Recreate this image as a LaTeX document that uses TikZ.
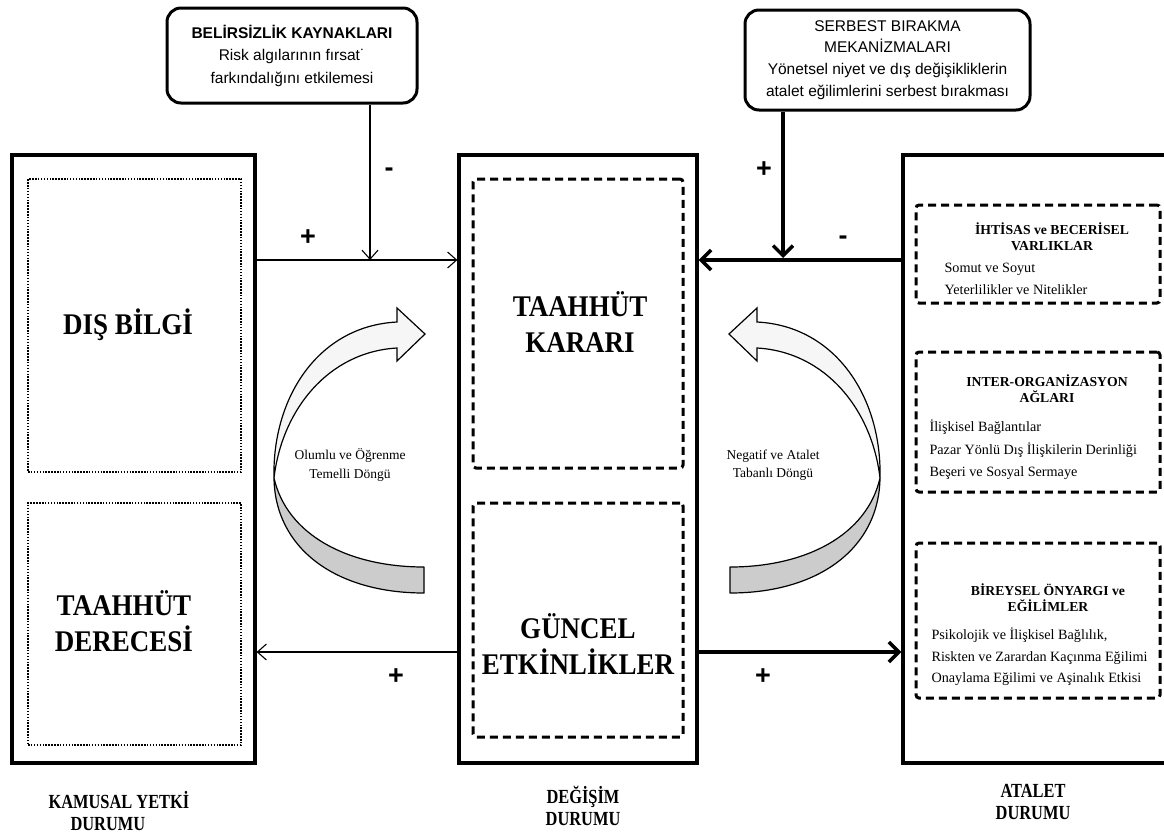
\documentclass[tikz,border=0pt]{standalone}
\usepackage{fontspec}
\setmainfont{Liberation Serif}
\setsansfont{Liberation Sans}
\newfontfamily\titlefont[FakeStretch=0.9]{Liberation Serif}
\newfontfamily\statefont[FakeStretch=0.82]{Liberation Serif}
\usetikzlibrary{arrows.meta}

% curved loop arrow (front face with head, then twisted back face)
\newcommand\loopshape{%
  \filldraw[fill=gray!40, line width=1.2pt, line join=round]
    (274,478) .. controls (275,548) and (335,593) .. (424,593)
    -- (424,567) .. controls (348,567) and (287,535) .. (274,478) -- cycle;
  \filldraw[fill=gray!7, line width=1.2pt, line join=miter]
    (397,322) -- (397,308) -- (425,334) -- (397,361) -- (397,348)
    .. controls (328,352) and (282,410) .. (274,478)
    .. controls (272,398) and (318,326) .. (397,322) -- cycle;
}

\begin{document}
\begin{tikzpicture}[x=1pt,y=-1pt,
  framebox/.style={draw, line width=3.2pt, inner sep=0pt},
  dotbox/.style={draw, line width=1.5pt, dash pattern=on 1.5pt off 1.4pt, inner sep=0pt},
  dashbox/.style={draw, line width=3pt, dash pattern=on 8pt off 5pt, rounded corners=3pt, inner sep=0pt},
  callout/.style={draw, line width=3pt, rounded corners=14pt, fill=white, inner sep=0pt},
  bigtitle/.style={font=\titlefont\bfseries\fontsize{30}{36}\selectfont, align=center},
  hd/.style={font=\bfseries\fontsize{13.7}{16}\selectfont, align=center},
  body/.style={font=\fontsize{14.2}{21.5}\selectfont, align=left, anchor=west},
  looptext/.style={font=\fontsize{13.5}{18.5}\selectfont, align=center},
  statelabel/.style={font=\statefont\bfseries\fontsize{20}{21.5}\selectfont, align=left},
  thinarrow/.style={line width=1.1pt, -{Straight Barb[length=9pt,width=16pt]}},
  thickarrow/.style={line width=3.5pt, -{Straight Barb[length=10pt,width=20pt]}},
  sign/.style={font=\sffamily\bfseries\fontsize{27}{27}\selectfont}]

\useasboundingbox (0,0) rectangle (1164,835);
\clip (0,0) rectangle (1164,835);

% three state columns
\node[framebox, minimum width=243pt, minimum height=608pt] (lb) at (133.5,459) {};
\node[framebox, minimum width=238pt, minimum height=608pt] (cb) at (578,459) {};
\node[framebox, minimum width=282pt, minimum height=608pt] (rb) at (1044,459) {};

% left column
\node[dotbox, minimum width=213pt, minimum height=293pt] (disb) at (134.5,325.5) {};
\node[bigtitle] (disbt) at (128,325) {DIŞ BİLGİ};
\node[dotbox, minimum width=213pt, minimum height=242pt] (tder) at (134.5,624) {};
\node[bigtitle] (tdert) at (124,621) {TAAHHÜT\\DERECESİ};

% centre column
\node[dashbox, minimum width=210pt, minimum height=289pt] (karar) at (578,323.5) {};
\node[bigtitle] (karart) at (580,322) {TAAHHÜT\\KARARI};
\node[dashbox, minimum width=210pt, minimum height=234pt] (guncel) at (578,620) {};
\node[bigtitle] (guncelt) at (578,644) {GÜNCEL\\ETKİNLİKLER};

% right column
\node[dashbox, minimum width=244pt, minimum height=98pt] (ihtisas) at (1038,254) {};
\node[hd] (ihtisash) at (1052,237) {İHTİSAS ve BECERİSEL\\VARLIKLAR};
\node[body] (ihtisasb) at (941,279) {Somut ve Soyut\\Yeterlilikler ve Nitelikler};

\node[dashbox, minimum width=244pt, minimum height=140pt] (inter) at (1038,422) {};
\node[hd] (interh) at (1047,389) {INTER-ORGANİZASYON\\AĞLARI};
\node[body, font=\fontsize{14.2}{22.5}\selectfont] (interb) at (926,450) {İlişkisel Bağlantılar\\Pazar Yönlü Dış İlişkilerin Derinliği\\Beşeri ve Sosyal Sermaye};

\node[dashbox, minimum width=244pt, minimum height=155pt] (bireysel) at (1038,620.5) {};
\node[hd] (bireyselh) at (1048,598) {BİREYSEL ÖNYARGI ve\\EĞİLİMLER};
\node[body] (bireyselb) at (928,657) {Psikolojik ve İlişkisel Bağlılık,\\Riskten ve Zarardan Kaçınma Eğilimi\\Onaylama Eğilimi ve Aşinalık Etkisi};

% feedback loops
\loopshape
\begin{scope}[xshift=1154pt, xscale=-1]
  \loopshape
\end{scope}
\node[looptext] (olumlu) at (350,465) {Olumlu ve Öğrenme\\Temelli Döngü};
\node[looptext] (negatif) at (773,465) {Negatif ve Atalet\\Tabanlı Döngü};

% moderator callouts
\node[callout, minimum width=250pt, minimum height=95pt,
      font=\sffamily\fontsize{15.5}{22.5}\selectfont, align=center] (belirsiz) at (292,55.5)
  {\textbf{BELİRSİZLİK KAYNAKLARI}\\Risk algılarının fırsat˙\\farkındalığını etkilemesi};
\node[callout, minimum width=285pt, minimum height=100pt,
      font=\sffamily\fontsize{15.5}{21.7}\selectfont, align=center] (serbest) at (887.5,60)
  {SERBEST BIRAKMA\\MEKANİZMALARI\\Yönetsel niyet ve dış değişikliklerin\\atalet eğilimlerini serbest bırakması};

% connector rows
\coordinate (rowtop) at (0,260);
\coordinate (rowbot) at (0,652);
\coordinate (j1) at (370,260);
\coordinate (j2) at (783,258);

\draw[thinarrow] (lb.east |- rowtop) -- (cb.west |- rowtop);
\draw[thinarrow] (belirsiz.south -| j1) -- (j1);
\draw[thickarrow] (rb.west |- rowtop) -- (cb.east |- rowtop);
\draw[thickarrow] (serbest.south -| j2) -- (j2);
\draw[thinarrow] (cb.west |- rowbot) -- (lb.east |- rowbot);
\draw[thickarrow] (cb.east |- rowbot) -- (rb.west |- rowbot);

% polarity signs
\node[sign] (s1) at (308,238) {+};
\node[sign] (s2) at (389,172) {-};
\node[sign] (s3) at (764,170) {+};
\node[sign] (s4) at (843,240) {-};
\node[sign] (s5) at (396,677) {+};
\node[sign] (s6) at (763,677) {+};

% state captions
\node[statelabel, anchor=west] (kamusal) at (45,811) {KAMUSAL YETKİ\\\hspace*{22pt}DURUMU};
\node[statelabel, align=center] (degisim) at (583,806) {DEĞİŞİM\\DURUMU};
\node[statelabel, align=center] (atalet) at (1033,802) {ATALET\\DURUMU};

\end{tikzpicture}
\end{document}
